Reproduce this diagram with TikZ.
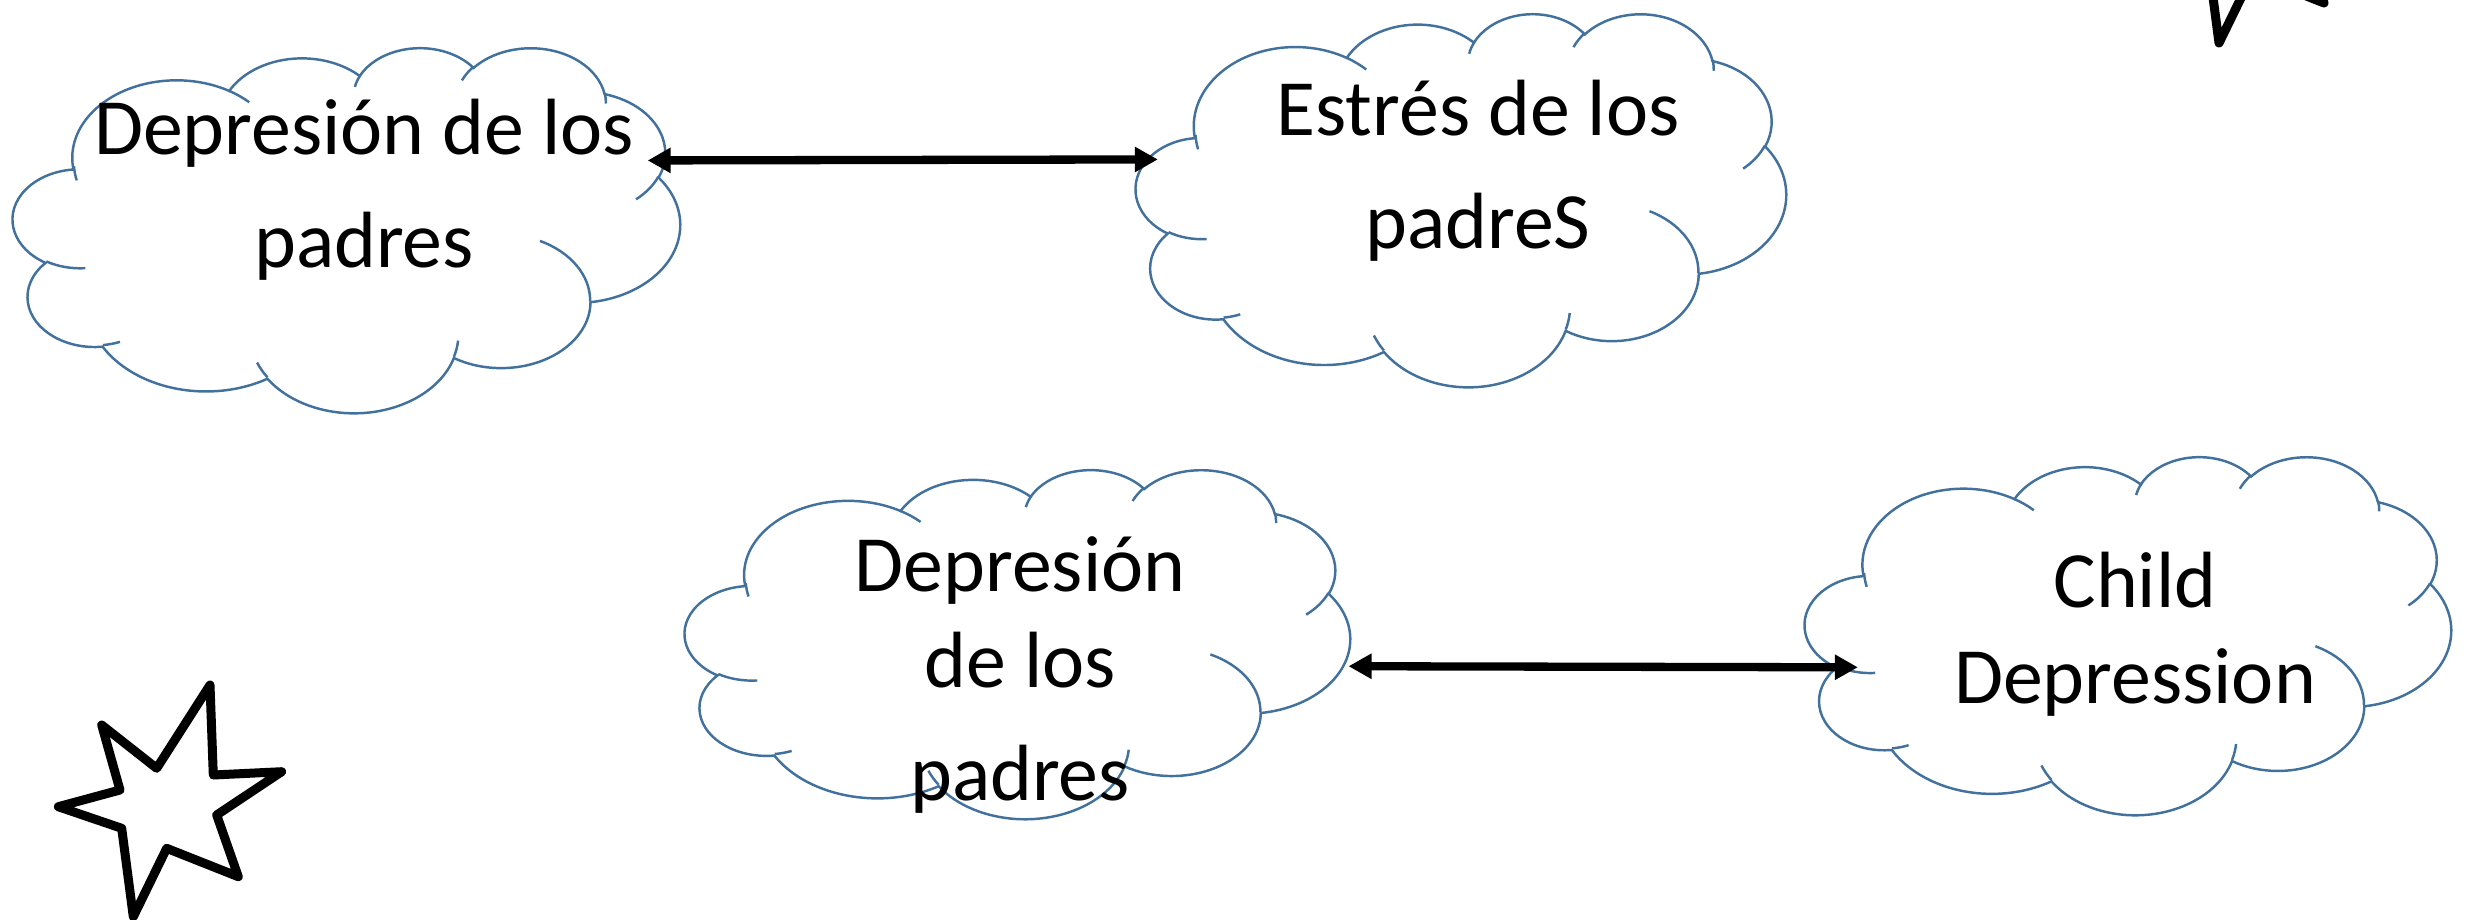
\documentclass[tikz,border=0pt]{standalone}
\usepackage{fontspec}
\setmainfont{Carlito}
\usetikzlibrary{arrows.meta}
\definecolor{cloudblue}{HTML}{41719C}

\pgfmathdeclarefunction{visang}{3}{%
  \begingroup
  \pgfmathsetmacro\vadiff{atan2((#2)*sin(#1),(#3)*cos(#1))-(#1)}%
  \pgfmathsetmacro\vadiff{\vadiff-360*round(\vadiff/360)}%
  \pgfmathparse{(#1)+\vadiff}%
  \pgfmathsmuggle\pgfmathresult
  \endgroup}

\newcommand\officecloud[4]{%
  \begin{scope}[shift={(#1,#2)},xscale=#3/43.2,yscale=#4/43.2]
    \draw[cloudline] (3.900,14.370)
      arc[puff={6.753}{9.190}{-190.4875}{123.7805}]
      arc[puff={5.333}{7.267}{-144.1024}{89.9452}]
      arc[puff={4.365}{5.945}{-145.8079}{99.7230}]
      arc[puff={4.857}{6.595}{-130.9861}{117.2417}]
      arc[puff={5.333}{7.273}{-78.7089}{109.0269}]
      arc[puff={6.775}{9.220}{-46.2673}{130.2690}]
      arc[puff={5.785}{7.867}{0.6250}{114.0333}]
      arc[puff={6.752}{9.215}{22.4516}{115.1726}]
      arc[puff={7.720}{10.543}{66.2426}{75.7110}]
      arc[puff={4.360}{5.918}{-274.9421}{146.7356}]
      arc[puff={4.345}{5.945}{-246.8285}{152.5189}] -- cycle;
    \draw[cloudline]
      (4.693,26.177) arc[puff={4.345}{5.945}{86.7420}{26.4295}]
      (6.928,34.899) arc[puff={4.360}{5.918}{73.6105}{11.4475}]
      (16.478,39.090) arc[puff={6.752}{9.215}{137.6242}{14.0811}]
      (28.827,34.751) arc[puff={6.752}{9.215}{6.4533}{15.9984}]
      (34.129,22.954) arc[puff={5.785}{7.867}{-70.2924}{70.9174}]
      (41.798,15.354) arc[puff={5.333}{7.273}{30.3180}{27.7515}]
      (38.324,5.426) arc[puff={4.857}{6.595}{-13.7443}{14.8589}]
      (29.078,3.952) arc[puff={4.857}{6.595}{-149.1815}{18.1954}]
      (22.141,4.720) arc[puff={4.365}{5.945}{-163.4943}{17.6864}]
      (14.000,5.192) arc[puff={6.753}{9.190}{-66.7070}{12.3194}]
      (4.127,15.789) arc[puff={6.753}{9.190}{162.0363}{14.0811}];
  \end{scope}}

\newcommand\sparkstar[1]{%
  \draw[starline,shift={#1}] (210,685) -- (213.3,775) -- (281.7,771.7)
    -- (216.7,815) -- (238.3,876.7) -- (166.7,848.3) -- (133.3,916.7)
    -- (121.7,828.3) -- (58.3,806.7) -- (120,790) -- (101.7,725)
    -- (156.7,768.3) -- cycle;}

\begin{document}
\begin{tikzpicture}[x=0.1mm,y=-0.1mm,
    cloudline/.style={draw=cloudblue,line width=0.7pt},
    puff/.style n args={4}{x radius=#1,y radius=#2,
      start angle={visang(#3,#1,#2)},end angle={visang(#3+#4,#1,#2)}},
    starline/.style={line width=0.9mm,line join=round,line cap=round},
    twoway/.style={draw,line width=0.83mm,
      {Triangle[length=2.3mm,width=2.4mm]}-{Triangle[length=2.3mm,width=2.4mm]}},
    widelines/.style={font=\fontsize{22.7pt}{32pt}\selectfont},
    tightlines/.style={font=\fontsize{22.7pt}{27.2pt}\selectfont}]

  \useasboundingbox (0,0) rectangle (2468,920);
  \clip (0,0) rectangle (2468,920);

  \officecloud{13}{47}{667}{365}
  \officecloud{1136}{13}{650}{373}
  \officecloud{685}{469}{665}{349}
  \officecloud{1805}{456}{646}{358}

  \sparkstar{(0,0)}
  \sparkstar{(2085.7,-873.7)}

  \begin{scope}[every node/.style={align=center,inner sep=0pt,anchor=base}]
    \node[widelines]  (pdep)    at (364,267)  {Depresión de los\\padres};
    \node[widelines]  (pstress) at (1478,248) {Estrés de los\\padreS};
    \node[tightlines] (pdep2)   at (1020,800) {Depresión\\de los\\[1.7mm]padres};
    \node[tightlines] (cdep)    at (2135,703) {Child\\Depression};
  \end{scope}

  \path ([shift={(13,62)}]pdep.north east) edge[twoway] ([shift={(-118,80)}]pstress.north west);
  \path ([shift={(162.5,130)}]pdep2.north east) edge[twoway] ([shift={(-95.5,116)}]cdep.north west);

\end{tikzpicture}
\end{document}
